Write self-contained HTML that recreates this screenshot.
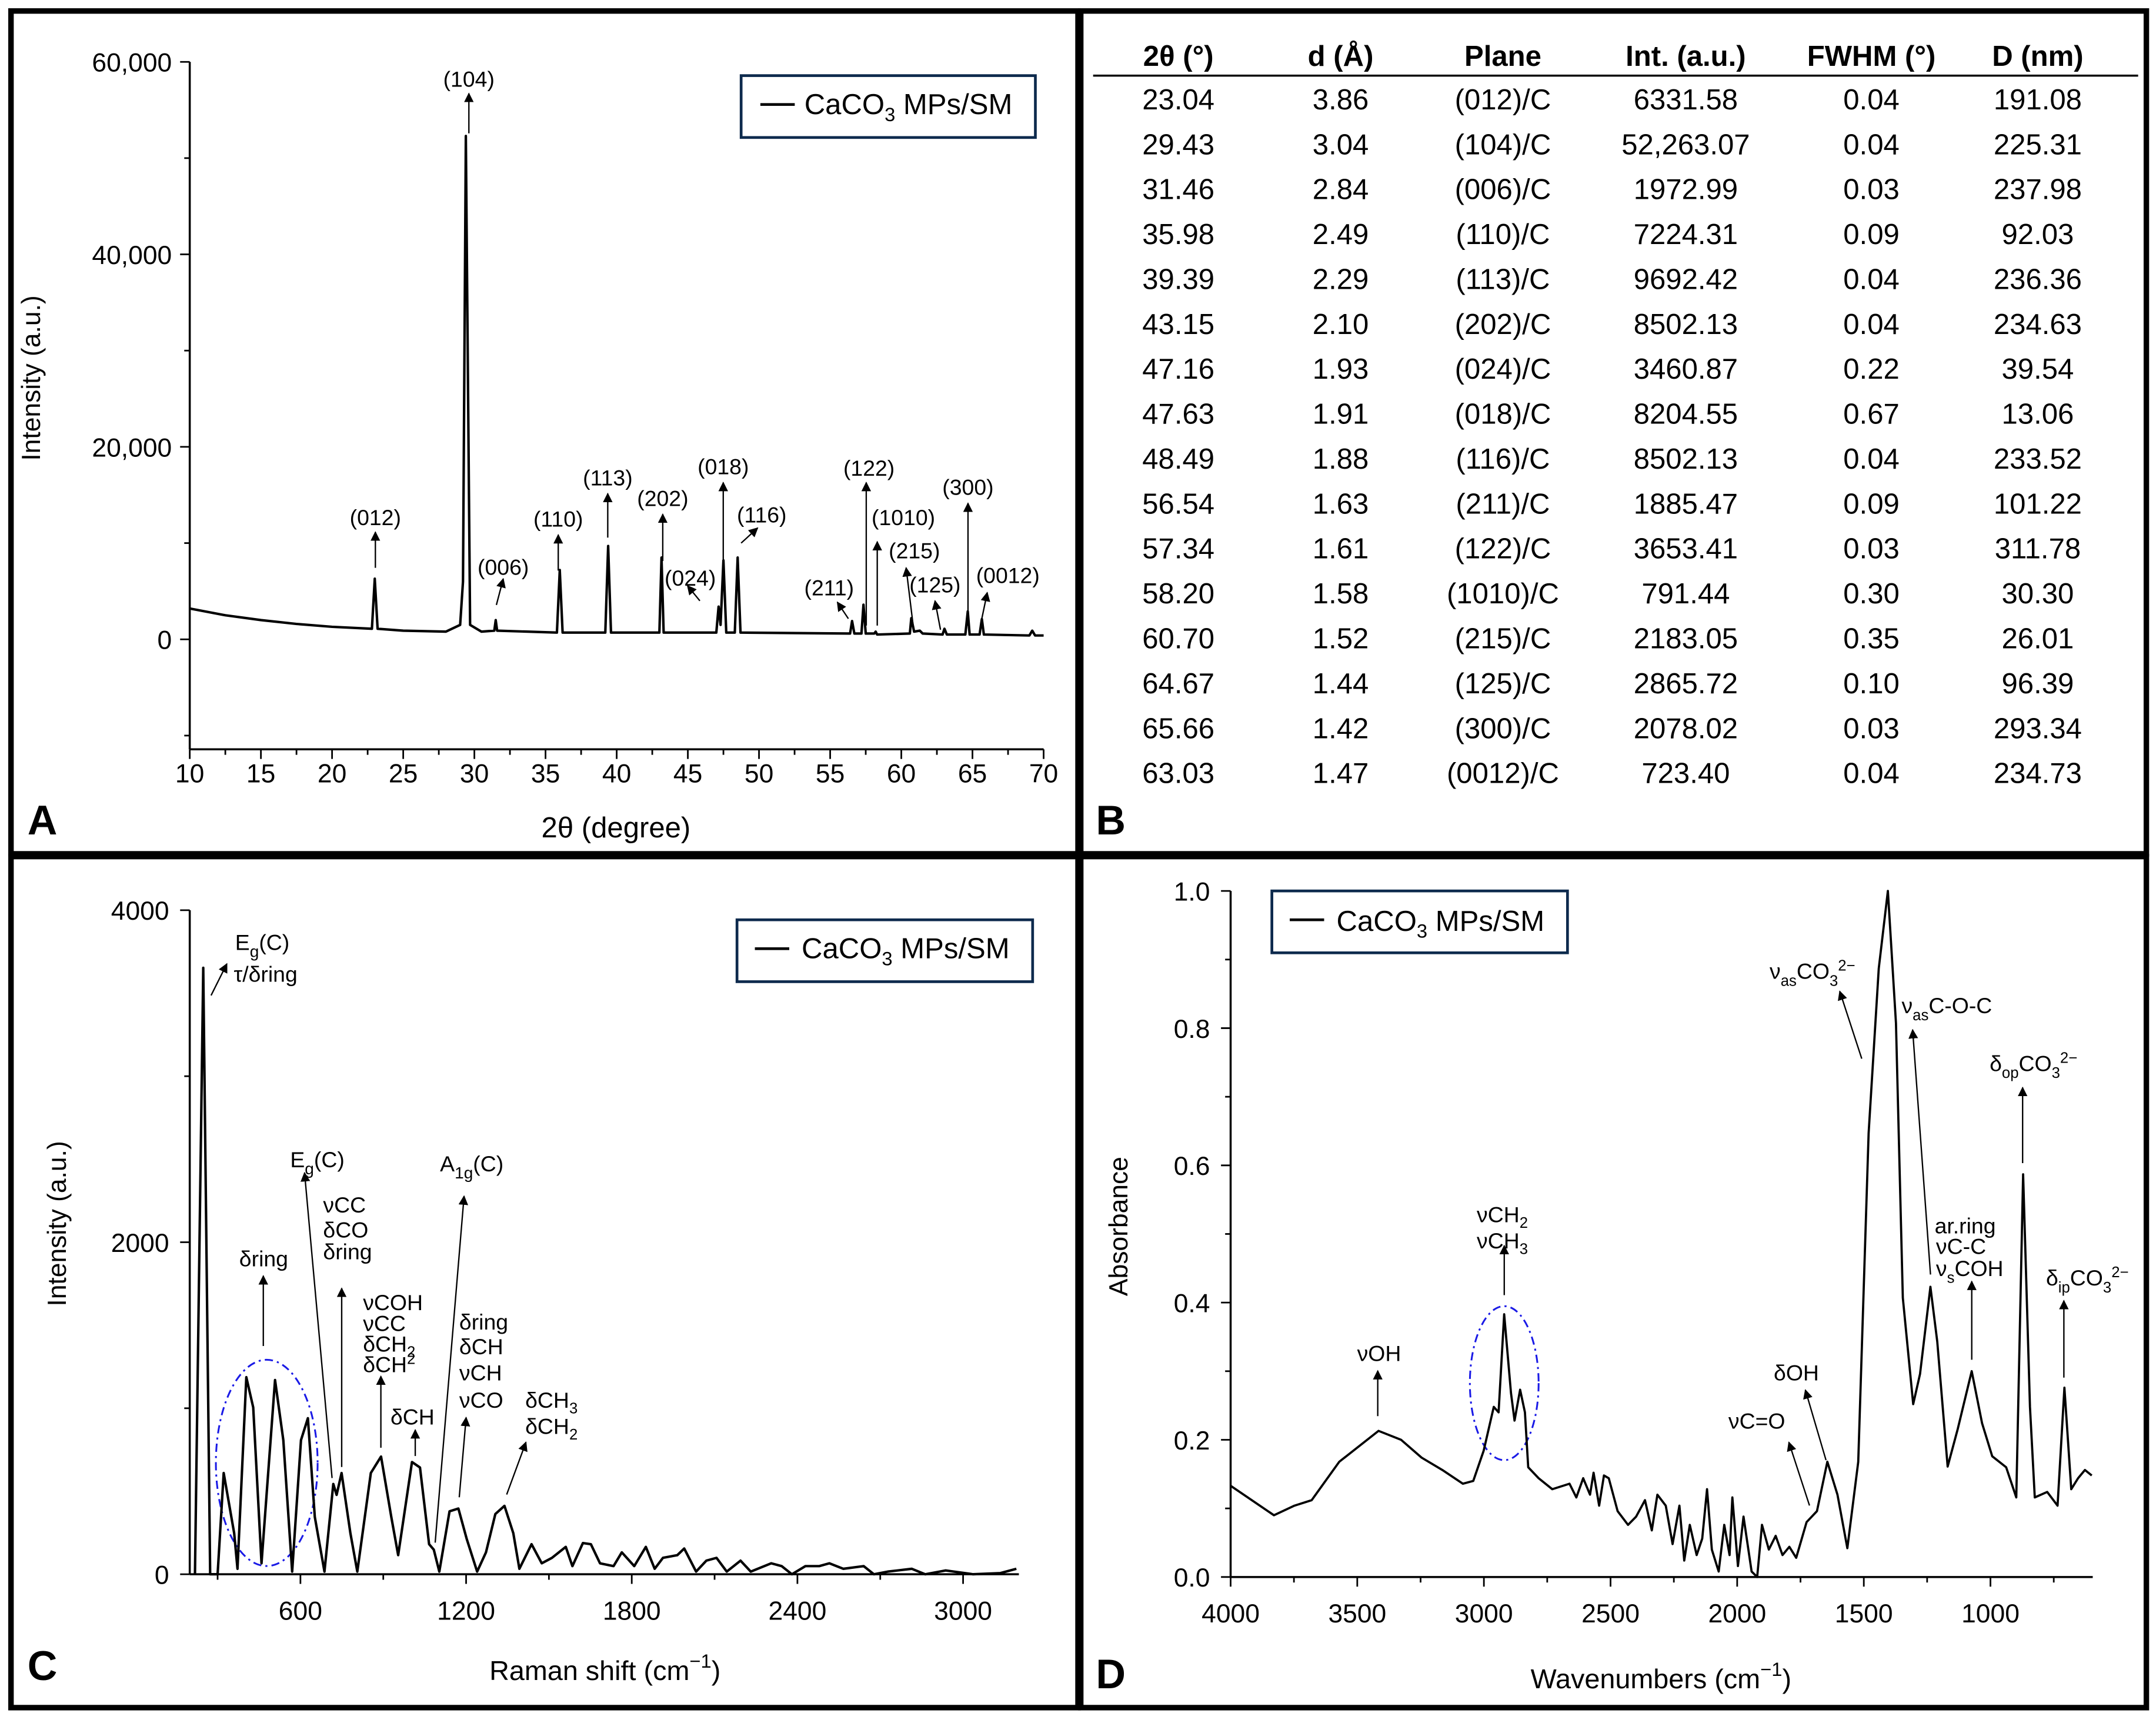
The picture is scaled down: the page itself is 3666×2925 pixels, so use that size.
<!DOCTYPE html>
<html><head><meta charset="utf-8"><style>
html,body{margin:0;padding:0;background:#fff}
svg{display:block}
text{font-family:"Liberation Sans",Arial,sans-serif;fill:#000}
</style></head><body>
<svg id="fig" xmlns="http://www.w3.org/2000/svg" width="3666" height="2925" viewBox="0 0 1568 1251" preserveAspectRatio="none">
<defs><marker id="ah" viewBox="0 0 10 10" refX="9" refY="5" markerWidth="7" markerHeight="9" orient="auto-start-reverse" markerUnits="userSpaceOnUse"><path d="M0,0 L10,5 L0,10 z" fill="#000"/></marker></defs>
<rect x="0" y="0" width="1568" height="1251" fill="#fff"/>
<rect x="8" y="8" width="776" height="613" fill="none" stroke="#000" stroke-width="4"/>
<rect x="786" y="8" width="775" height="613" fill="none" stroke="#000" stroke-width="4"/>
<rect x="8" y="623" width="776" height="619" fill="none" stroke="#000" stroke-width="4"/>
<rect x="786" y="623" width="775" height="619" fill="none" stroke="#000" stroke-width="4"/>

<g id="pa">
<text x="20" y="607" font-size="30" font-weight="bold">A</text>
<text x="448" y="609" font-size="21" text-anchor="middle">2θ (degree)</text>
<text transform="translate(29,275) rotate(-90)" font-size="19" text-anchor="middle">Intensity (a.u.)</text>
<g><rect x="539" y="55" width="214" height="45" fill="#fff" stroke="#0d2a4d" stroke-width="2"/><line x1="553" y1="76" x2="578" y2="76" stroke="#000" stroke-width="2"/><text x="585" y="83" font-size="21">CaCO<tspan font-size="14" dy="5">3</tspan><tspan dy="-5"> MPs/SM</tspan></text></g>
<g font-size="16" text-anchor="middle">
<text x="341" y="63">(104)</text><text x="273" y="382">(012)</text><text x="366" y="418">(006)</text><text x="406" y="383">(110)</text><text x="442" y="353">(113)</text><text x="482" y="368">(202)</text><text x="502" y="426">(024)</text><text x="526" y="345">(018)</text><text x="554" y="380">(116)</text><text x="603" y="433">(211)</text><text x="632" y="346">(122)</text><text x="657" y="382">(1010)</text><text x="665" y="406">(215)</text><text x="680" y="431">(125)</text><text x="704" y="360">(300)</text><text x="733" y="424">(0012)</text>
</g>
<g stroke="#000" stroke-width="1" marker-end="url(#ah)">
<line x1="341" y1="97" x2="341" y2="68"/><line x1="273" y1="413" x2="273" y2="387"/><line x1="361" y1="440" x2="366" y2="421"/><line x1="406" y1="415" x2="406" y2="389"/><line x1="442" y1="391" x2="442" y2="359"/><line x1="482" y1="408" x2="482" y2="374"/><line x1="509" y1="437" x2="500" y2="426"/><line x1="526" y1="425" x2="526" y2="351"/><line x1="539" y1="395" x2="551" y2="384"/><line x1="617" y1="450" x2="609" y2="438"/><line x1="630" y1="455" x2="630" y2="351"/><line x1="638" y1="455" x2="638" y2="394"/><line x1="664" y1="454" x2="659" y2="413"/><line x1="684" y1="458" x2="680" y2="437"/><line x1="704" y1="455" x2="704" y2="366"/><line x1="713" y1="455" x2="718" y2="431"/>
</g>
</g>

<g id="pb">
<text x="797" y="607" font-size="30" font-weight="bold">B</text>
<line x1="795" y1="55" x2="1555" y2="55" stroke="#000" stroke-width="1.5"/>
</g>

<g id="pc">
<text x="20" y="1222" font-size="30" font-weight="bold">C</text>
<text x="440" y="1222" font-size="20" text-anchor="middle">Raman shift (cm<tspan dy="-9" font-size="14">−1</tspan><tspan dy="9">)</tspan></text>
<text transform="translate(48,890) rotate(-90)" font-size="19" text-anchor="middle">Intensity (a.u.)</text>
<g><rect x="536" y="669" width="215" height="45" fill="#fff" stroke="#0d2a4d" stroke-width="2"/><line x1="549" y1="690" x2="574" y2="690" stroke="#000" stroke-width="2"/><text x="583" y="697" font-size="21">CaCO<tspan font-size="14" dy="5">3</tspan><tspan dy="-5"> MPs/SM</tspan></text></g>
<ellipse cx="194" cy="1064" rx="37" ry="75" fill="none" stroke="#1a1ae6" stroke-width="1.3" stroke-dasharray="6,3,1.5,3"/>
<g font-size="16">
<text x="171" y="691">E<tspan font-size="12" dy="5">g</tspan><tspan dy="-5">(C)</tspan></text><text x="170" y="714">τ/δring</text>
<text x="174" y="921">δring</text>
<text x="211" y="849">E<tspan font-size="12" dy="5">g</tspan><tspan dy="-5">(C)</tspan></text>
<text x="235" y="882">νCC</text><text x="235" y="900">δCO</text><text x="235" y="916">δring</text>
<text x="264" y="953">νCOH</text><text x="264" y="968">νCC</text><text x="264" y="983">δCH<tspan font-size="11" dy="4">2</tspan></text><text x="264" y="998">δCH<tspan font-size="11" dy="-6">2</tspan></text>
<text x="284" y="1036">δCH</text>
<text x="320" y="852">A<tspan font-size="12" dy="5">1g</tspan><tspan dy="-5">(C)</tspan></text>
<text x="334" y="967">δring</text><text x="334" y="985">δCH</text><text x="334" y="1004">νCH</text><text x="334" y="1024">νCO</text>
<text x="382" y="1024">δCH<tspan font-size="11" dy="4">3</tspan></text><text x="382" y="1043">δCH<tspan font-size="11" dy="4">2</tspan></text>
</g>
<g stroke="#000" stroke-width="1" marker-end="url(#ah)">
<line x1="153.5" y1="724" x2="165" y2="701"/><line x1="191.5" y1="979" x2="191.5" y2="928"/><line x1="241.5" y1="1075" x2="221.5" y2="853"/><line x1="248.5" y1="1067" x2="248.5" y2="937"/><line x1="277" y1="1053" x2="277" y2="1001"/><line x1="302" y1="1059" x2="302" y2="1040"/><line x1="316.5" y1="1122" x2="337.5" y2="870"/><line x1="334" y1="1089" x2="339" y2="1031"/><line x1="368.5" y1="1087" x2="382.5" y2="1049"/>
</g>
</g>

<g id="pd">
<text x="797" y="1228" font-size="30" font-weight="bold">D</text>
<text x="1208" y="1228" font-size="20" text-anchor="middle">Wavenumbers (cm<tspan dy="-9" font-size="14">−1</tspan><tspan dy="9">)</tspan></text>
<text transform="translate(820,892) rotate(-90)" font-size="19" text-anchor="middle">Absorbance</text>
<g><rect x="925" y="648" width="215" height="45" fill="#fff" stroke="#0d2a4d" stroke-width="2"/><line x1="938" y1="669" x2="963" y2="669" stroke="#000" stroke-width="2"/><text x="972" y="677" font-size="21">CaCO<tspan font-size="14" dy="5">3</tspan><tspan dy="-5"> MPs/SM</tspan></text></g>
<ellipse cx="1094" cy="1006" rx="25" ry="56" fill="none" stroke="#1a1ae6" stroke-width="1.3" stroke-dasharray="6,3,1.5,3"/>
<g font-size="16">
<text x="987" y="990">νOH</text>
<text x="1074" y="889">νCH<tspan font-size="11" dy="4">2</tspan></text><text x="1074" y="908">νCH<tspan font-size="11" dy="4">3</tspan></text>
<text x="1257" y="1039">νC=O</text>
<text x="1290" y="1004">δOH</text>
<text x="1287" y="712">ν<tspan font-size="11" dy="5">as</tspan><tspan dy="-5">CO</tspan><tspan font-size="11" dy="5">3</tspan><tspan font-size="11" dy="-11">2−</tspan></text>
<text x="1383" y="737">ν<tspan font-size="11" dy="5">as</tspan><tspan dy="-5">C-O-C</tspan></text>
<text x="1447" y="779">δ<tspan font-size="11" dy="5">op</tspan><tspan dy="-5">CO</tspan><tspan font-size="11" dy="5">3</tspan><tspan font-size="11" dy="-11">2−</tspan></text>
<text x="1407" y="897">ar.ring</text><text x="1408" y="912">νC-C</text><text x="1408" y="928">ν<tspan font-size="11" dy="5">s</tspan><tspan dy="-5">COH</tspan></text>
<text x="1488" y="935">δ<tspan font-size="11" dy="5">ip</tspan><tspan dy="-5">CO</tspan><tspan font-size="11" dy="5">3</tspan><tspan font-size="11" dy="-11">2−</tspan></text>
</g>
<g stroke="#000" stroke-width="1" marker-end="url(#ah)">
<line x1="1002" y1="1030" x2="1002" y2="997"/><line x1="1094" y1="942" x2="1094" y2="906"/><line x1="1316" y1="1095" x2="1301" y2="1049"/><line x1="1328" y1="1062" x2="1313" y2="1011"/><line x1="1354" y1="770" x2="1338" y2="721"/><line x1="1404" y1="927" x2="1391" y2="749"/><line x1="1471" y1="846" x2="1471" y2="791"/><line x1="1434" y1="989" x2="1434" y2="932"/><line x1="1501" y1="1002" x2="1501" y2="946"/>
</g>
</g>
</svg>
<script>
// ---------- Panel A data (XRD) ----------
const xrdTwoTheta=[10,12.5,15,17.5,20,22.8,23.0,23.2,25,28,29.0,29.2,29.4,29.7,30.5,31.4,31.5,31.6,35.8,36.0,36.2,39.2,39.4,39.6,43.0,43.15,43.3,47.0,47.16,47.3,47.5,47.7,48.3,48.5,48.7,56.4,56.54,56.7,57.2,57.34,57.5,58.1,58.2,58.3,60.6,60.7,60.9,61.3,61.5,62.9,63.03,63.2,64.5,64.67,64.8,65.5,65.66,65.8,69,69.2,69.4,70];
const xrdIntensity=[3200,2500,2000,1600,1300,1100,6300,1100,900,800,1500,6000,52300,1500,800,900,2000,900,700,7200,700,700,9700,700,700,8500,700,700,3400,1500,8200,700,700,8500,700,600,1900,600,600,3600,600,600,800,500,600,2200,800,900,600,500,1100,500,500,2900,500,500,2100,500,400,900,400,400];
const xrdXTicks=[10,15,20,25,30,35,40,45,50,55,60,65,70];
const xrdYTicks=[0,20000,40000,60000];
const xrdYTickLabels=["0","20,000","40,000","60,000"];
// ---------- Panel B table ----------
const tableHeaders=["2θ (°)","d (Å)","Plane","Int. (a.u.)","FWHM (°)","D (nm)"];
const col2Theta=["23.04","29.43","31.46","35.98","39.39","43.15","47.16","47.63","48.49","56.54","57.34","58.20","60.70","64.67","65.66","63.03"];
const colD=["3.86","3.04","2.84","2.49","2.29","2.10","1.93","1.91","1.88","1.63","1.61","1.58","1.52","1.44","1.42","1.47"];
const colPlane=["(012)/C","(104)/C","(006)/C","(110)/C","(113)/C","(202)/C","(024)/C","(018)/C","(116)/C","(211)/C","(122)/C","(1010)/C","(215)/C","(125)/C","(300)/C","(0012)/C"];
const colInt=["6331.58","52,263.07","1972.99","7224.31","9692.42","8502.13","3460.87","8204.55","8502.13","1885.47","3653.41","791.44","2183.05","2865.72","2078.02","723.40"];
const colFWHM=["0.04","0.04","0.03","0.09","0.04","0.04","0.22","0.67","0.04","0.09","0.03","0.30","0.35","0.10","0.03","0.04"];
const colSize=["191.08","225.31","237.98","92.03","236.36","234.63","39.54","13.06","233.52","101.22","311.78","30.30","26.01","96.39","293.34","234.73"];
// ---------- Panel C data (Raman) ----------
const ramanShift=[218,248,273,300,322,360,372,404,429,459,508,538,570,602,627,652,687,719,731,749,781,806,855,892,929,954,1004,1033,1066,1083,1103,1140,1172,1202,1240,1272,1306,1339,1371,1393,1437,1474,1511,1561,1585,1623,1652,1685,1734,1764,1809,1851,1883,1913,1965,1990,2033,2070,2107,2144,2194,2231,2305,2343,2380,2429,2479,2516,2566,2640,2677,2727,2814,2863,2937,3036,3135,3193];
const ramanIntensity=[0,3653,0,0,610,247,33,1187,1005,66,1170,808,16,808,940,346,16,544,478,610,247,16,610,709,346,115,676,643,181,148,16,379,396,214,16,132,363,412,247,33,181,66,99,165,49,188,181,66,49,132,49,165,33,99,115,155,16,82,99,16,82,16,66,49,0,49,49,66,33,49,0,16,33,0,23,0,7,33];
const ramanXTicks=[600,1200,1800,2400,3000];
const ramanYTicks=[0,2000,4000];
// ---------- Panel D data (FTIR) ----------
const ftirWavenumber=[4000,3829,3748,3680,3571,3416,3327,3246,3164,3083,3042,3001,2961,2942,2920,2893,2879,2857,2838,2825,2784,2730,2662,2635,2608,2581,2567,2545,2526,2507,2472,2431,2399,2364,2337,2315,2282,2255,2228,2209,2187,2160,2138,2119,2100,2073,2051,2030,2019,1997,1975,1943,1921,1902,1875,1848,1821,1794,1767,1726,1685,1644,1604,1565,1522,1481,1441,1405,1373,1346,1305,1278,1237,1210,1169,1129,1074,1033,993,938,898,871,844,825,776,735,708,681,654,627,600];
const ftirAbsorbance=[0.133,0.090,0.104,0.112,0.168,0.213,0.200,0.174,0.156,0.136,0.140,0.184,0.248,0.240,0.383,0.268,0.228,0.273,0.240,0.160,0.144,0.128,0.136,0.116,0.144,0.120,0.152,0.104,0.148,0.144,0.096,0.076,0.088,0.112,0.068,0.120,0.104,0.048,0.104,0.024,0.076,0.032,0.056,0.128,0.040,0.008,0.076,0.032,0.116,0.016,0.088,0.008,0.000,0.076,0.040,0.060,0.032,0.044,0.028,0.080,0.096,0.168,0.120,0.042,0.168,0.647,0.887,1.000,0.807,0.407,0.252,0.296,0.423,0.343,0.161,0.216,0.300,0.224,0.176,0.160,0.116,0.587,0.248,0.116,0.124,0.104,0.276,0.128,0.144,0.156,0.148];
const ftirXTicks=[4000,3500,3000,2500,2000,1500,1000];
const ftirYTicks=[0,0.2,0.4,0.6,0.8,1.0];

const NS="http://www.w3.org/2000/svg";
function mk(tag,parent){const e=document.createElementNS(NS,tag);parent.appendChild(e);return e;}
function txt(parent,x,y,s,size,anchor){const t=mk('text',parent);t.setAttribute('x',x);t.setAttribute('y',y);t.setAttribute('font-size',size);t.setAttribute('text-anchor',anchor);t.textContent=s;return t;}
function ln(parent,x1,y1,x2,y2,w){const l=mk('line',parent);l.setAttribute('x1',x1);l.setAttribute('y1',y1);l.setAttribute('x2',x2);l.setAttribute('y2',y2);l.setAttribute('stroke','#000');l.setAttribute('stroke-width',w);return l;}

const xA=v=>138+(v-10)*10.35, yA=v=>465-v*0.007;
const xC=v=>218.5+(v-600)*0.2008, yC=v=>1145-v*0.12075;
const xD=v=>895+(4000-v)*0.1842, yD=v=>1147-v*499;

// ---- Panel A ----
const pa=document.getElementById('pa');
let ax=mk('g',pa);


ln(ax,138,45,138,545,1.5);ln(ax,138,545,759,545,1.5);
for(let v=10;v<=70;v+=2.5){ln(ax,xA(v),545,xA(v),(v%5===0)?552:549,1.2);}
xrdXTicks.forEach(v=>{const t=txt(ax,xA(v),569,String(v),19,'middle');});
for(let v=-10000;v<=60000;v+=10000){ln(ax,138,yA(v),(v%20000===0)?131:134,yA(v),1.2);}
xrdYTicks.forEach((v,i)=>{const t=txt(ax,125,yA(v)+7,xrdYTickLabels[i],19,'end');});
let pA=mk('path',pa);


pA.setAttribute('d',xrdTwoTheta.map((v,i)=>(i?'L':'M')+xA(v).toFixed(2)+','+yA(xrdIntensity[i]).toFixed(2)).join(''));
pA.setAttribute('fill','none');pA.setAttribute('stroke','#000');pA.setAttribute('stroke-width','1.8');pA.setAttribute('stroke-linejoin','round');

// ---- Panel B ----
const pb=document.getElementById('pb');
const colX=[857,975,1093,1226,1361,1482];
tableHeaders.forEach((h,i)=>{const t=txt(pb,colX[i],48,h,21,'middle');t.setAttribute('font-weight','bold');});
const cols=[col2Theta,colD,colPlane,colInt,colFWHM,colSize];
for(let r=0;r<col2Theta.length;r++){
  const row=mk('g',pb);
  
  
  cols.forEach((c,i)=>{txt(row,colX[i],79.5+r*32.67,c[r],21,'middle');});
}

// ---- Panel C ----
const pc=document.getElementById('pc');
let cx=mk('g',pc);


ln(cx,138,662,138,1145,1.5);ln(cx,138,1145,741,1145,1.5);
for(let v=300;v<=3000;v+=300){ln(cx,xC(v),1145,xC(v),(v%600===0)?1152:1149,1.2);}
ramanXTicks.forEach(v=>{const t=txt(cx,xC(v),1178,String(v),19,'middle');});
for(let v=0;v<=4000;v+=1000){ln(cx,138,yC(v),(v%2000===0)?131:134,yC(v),1.2);}
ramanYTicks.forEach(v=>{const t=txt(cx,123,yC(v)+7,String(v),19,'end');});
let pC=mk('path',pc);


pC.setAttribute('d',ramanShift.map((v,i)=>(i?'L':'M')+xC(v).toFixed(2)+','+yC(ramanIntensity[i]).toFixed(2)).join(''));
pC.setAttribute('fill','none');pC.setAttribute('stroke','#000');pC.setAttribute('stroke-width','1.8');pC.setAttribute('stroke-linejoin','round');

// ---- Panel D ----
const pd=document.getElementById('pd');
let dx=mk('g',pd);


ln(dx,895,648,895,1147,1.5);ln(dx,895,1147,1522,1147,1.5);
for(let v=4000;v>=750;v-=250){ln(dx,xD(v),1147,xD(v),(v%500===0)?1154:1151,1.2);}
ftirXTicks.forEach(v=>{const t=txt(dx,xD(v),1180,String(v),19,'middle');});
for(let k=0;k<=10;k++){const v=k/10;ln(dx,895,yD(v),(k%2===0)?888:891,yD(v),1.2);}
ftirYTicks.forEach(v=>{const t=txt(dx,880,yD(v)+7,v.toFixed(1),19,'end');});
let pD=mk('path',pd);


pD.setAttribute('d',ftirWavenumber.map((v,i)=>(i?'L':'M')+xD(v).toFixed(2)+','+yD(ftirAbsorbance[i]).toFixed(2)).join(''));
pD.setAttribute('fill','none');pD.setAttribute('stroke','#000');pD.setAttribute('stroke-width','1.6');pD.setAttribute('stroke-linejoin','round');
</script>
</body></html>
